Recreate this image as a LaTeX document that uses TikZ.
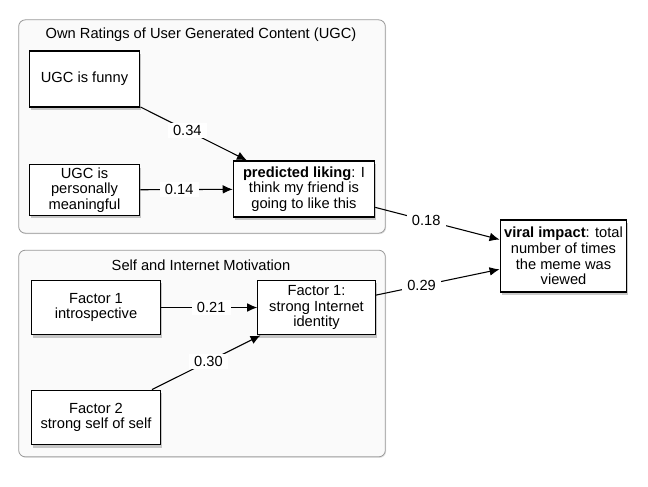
\documentclass[tikz,border=0pt]{standalone}
\usepackage{fontspec}
\setmainfont{Liberation Sans}
\usepackage{tikz}
\usetikzlibrary{arrows.meta,positioning,shadows}
\definecolor{frame}{HTML}{9A9A9A}
\definecolor{panel}{HTML}{FAFAFA}

\tikzset{
  box/.style={draw,line width=0.9pt,fill=white,align=center,inner sep=2pt,
    drop shadow={shadow xshift=1.2pt,shadow yshift=-2.2pt,opacity=0.35,fill=black!60}},
  group/.style={draw=frame,line width=0.6pt,fill=panel,rounded corners=5pt,
    drop shadow={shadow xshift=0.6pt,shadow yshift=-0.8pt,opacity=0.12,fill=black}},
  coef/.style={fill=white,inner xsep=4pt,inner ysep=1.5pt},
  link/.style={line width=0.8pt,-{Latex[length=7.5pt,width=6.5pt]}}
}

\begin{document}
\begin{tikzpicture}[x=0.75pt,y=-0.75pt,font=\fontsize{11}{11.8}\selectfont]
\useasboundingbox (0,0) rectangle (648,486);
\node[group,minimum width=275pt,minimum height=160pt] (ugcgroup) at (202,126.5) {};
\node[group,minimum width=275pt,minimum height=155pt] (motgroup) at (202,353.5) {};
\node (ugctitle) at (201,35) {Own Ratings of User Generated Content (UGC)};
\node (mottitle) at (201,265) {Self and Internet Motivation};

\node[box,minimum width=83pt,minimum height=42pt] (funny) at (84.5,79) {UGC is funny};
\node[box,minimum width=83pt,minimum height=37.5pt] (meaning) at (84.5,190) {UGC is\\personally\\meaningful};
\node[box,minimum width=106pt,minimum height=42pt] (liking) at (304,189) {\textbf{predicted liking}: I\\think my friend is\\going to like this};
\node[box,minimum width=97pt,minimum height=41pt] (intro) at (96,307.5) {Factor 1\\introspective};
\node[box,minimum width=88pt,minimum height=41pt] (identity) at (316.5,307.5) {Factor 1:\\strong Internet\\identity};
\node[box,minimum width=97pt,minimum height=41pt] (selfF) at (96,417.5) {Factor 2\\strong self of self};
\node[box,minimum width=95pt,minimum height=54pt] (viral) at (563.5,256) {\textbf{viral impact}: total\\number of times\\the meme was\\viewed};

\draw[link] (funny) -- node[coef,pos=0.44] {0.34} (liking);
\draw[link] (meaning) -- node[coef,pos=0.42] {0.14} (liking);
\draw[link] (liking) -- node[coef,pos=0.41] {0.18} (viral);
\draw[link] (identity) -- node[coef,pos=0.37] {0.29} (viral);
\draw[link] (intro) -- node[coef,pos=0.52] {0.21} (identity);
\draw[link] (selfF) -- node[coef,pos=0.52] {0.30} (identity);
\end{tikzpicture}
\end{document}
